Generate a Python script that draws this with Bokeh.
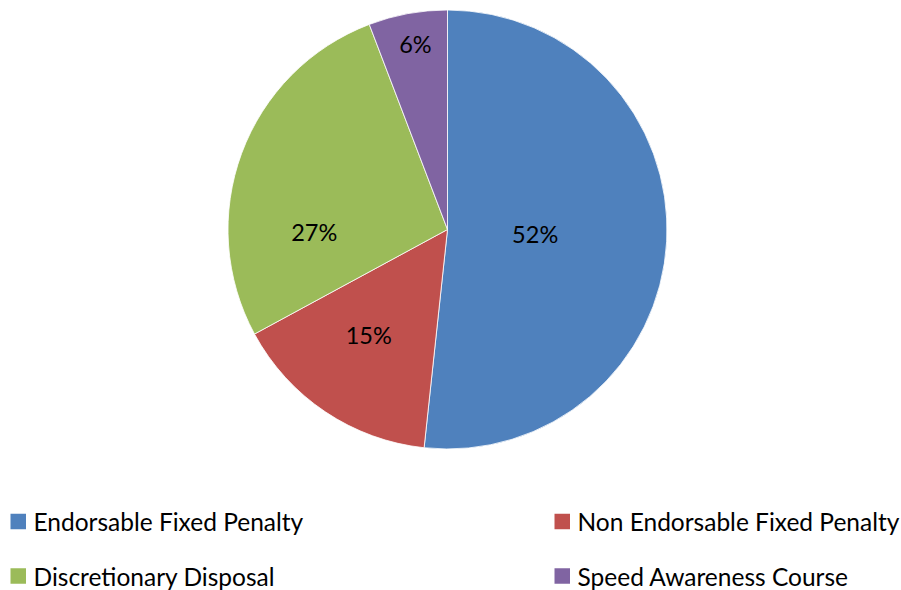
import math
from bokeh.plotting import figure
from bokeh.models import ColumnDataSource
from bokeh.core.properties import value
from bokeh.embed import file_html
from bokeh.resources import INLINE

# ---- data ----
categories = ["Endorsable Fixed Penalty", "Non Endorsable Fixed Penalty",
              "Discretionary Disposal", "Speed Awareness Course"]
shares = [51.7, 15.4, 27.1, 5.8]
colors = ["#4F81BD", "#C0504D", "#9BBB59", "#8064A2"]

# ---- layout ----
W, H = 901, 590
cx, cy, R = 447, H - 229, 219.5
label_r = [0.40, 0.60, 0.607, 0.858]      # label distance as fraction of radius
label_shift = [-0.002, -0.050, 0.371, -0.011]  # angular nudge (radians, ccw)
FONT = "Lato"

p = figure(width=W, height=H, x_range=(0, W), y_range=(0, H),
           output_backend="svg", toolbar_location=None, min_border=0)
p.axis.visible = False
p.grid.visible = False
p.outline_line_color = None
p.background_fill_color = "white"

total = float(sum(shares))
starts, ends, lx, ly, labels = [], [], [], [], []
cum = 0.0
for i, s in enumerate(shares):
    a0 = math.pi / 2 - 2 * math.pi * cum / total
    cum += s
    a1 = math.pi / 2 - 2 * math.pi * cum / total
    starts.append(a0)
    ends.append(a1)
    mid = (a0 + a1) / 2 + label_shift[i]
    lx.append(cx + label_r[i] * R * math.cos(mid))
    ly.append(cy + label_r[i] * R * math.sin(mid))
    labels.append(f"{round(100 * s / total)}%")

src = ColumnDataSource(dict(start=starts, end=ends, color=colors))
p.wedge(x=cx, y=cy, radius=R, start_angle="start", end_angle="end",
        direction="clock", fill_color="color", line_color="white",
        line_width=0.8, source=src)

p.text(x=lx, y=ly, text=labels, text_align="center", text_baseline="middle",
       text_font=value(FONT), text_font_size="23.5px", text_color="#000000")

# legend (two columns, two rows)
leg_x = [10, 554, 10, 554]
leg_y = [H - 521, H - 521, H - 575.5, H - 575.5]
sq = 15.5
p.rect(x=[x + sq / 2 for x in leg_x], y=leg_y, width=sq, height=sq,
       fill_color=colors, line_color=None)
p.text(x=[x + 23 for x in leg_x], y=leg_y, text=categories,
       text_align="left", text_baseline="middle",
       text_font=value(FONT), text_font_size="24.5px", text_color="#000000")

open("out.html", "w").write(file_html(p, INLINE))
